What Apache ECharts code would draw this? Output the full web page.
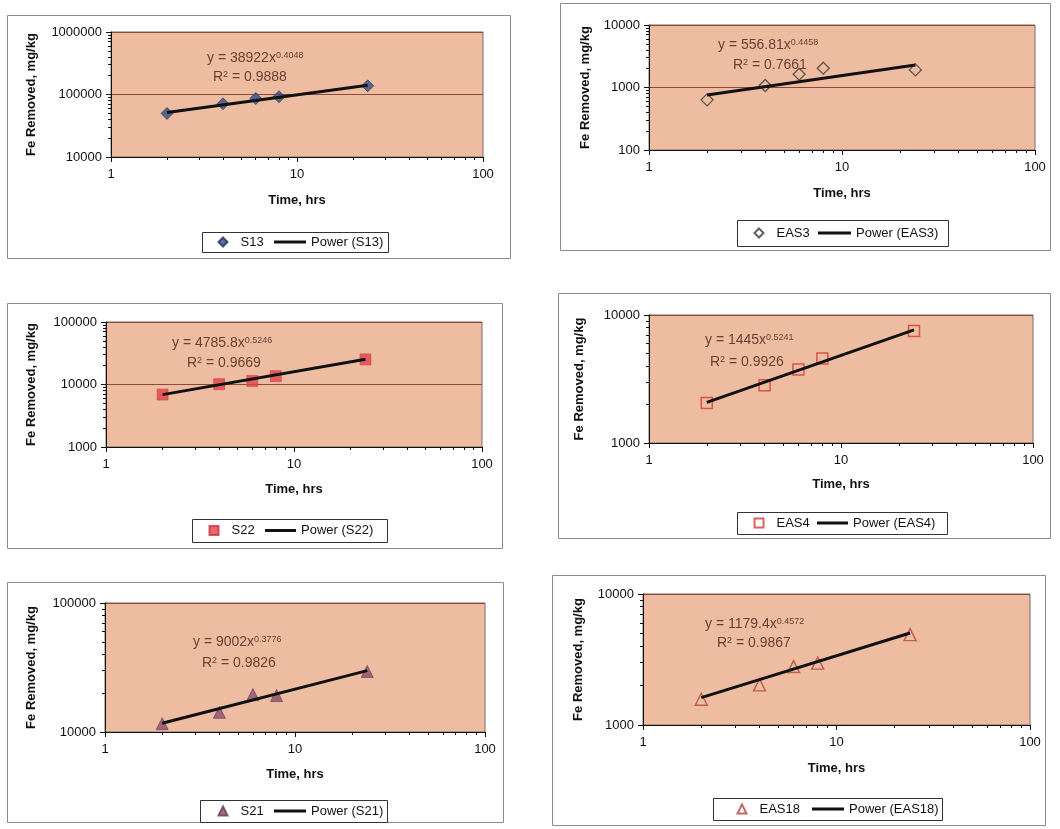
<!DOCTYPE html>
<html>
<head>
<meta charset="utf-8">
<title>Fe Removed vs Time</title>
<script src="https://cdn.jsdelivr.net/npm/echarts@6/dist/echarts.min.js"></script>
<style>
  html, body { margin: 0; padding: 0; background: #fff; }
  #chart { width: 1060px; height: 829px; }
</style>
</head>
<body>
<div id="chart"></div>
<script>
// Sampling times (hours), shared by every sample
const hours = [2, 4, 6, 8, 24];
const timeTicks = [1, 10, 100];

// Fe removed (mg/kg) for each sample
const s13   = [49700, 71000, 86300, 91900, 137800];
const eas3  = [634, 1077, 1632, 2037, 1914];
const s22   = [6900, 10100, 11400, 13600, 25200];
const eas4  = [2056, 2830, 3760, 4580, 7500];
const s21   = [11600, 14200, 19500, 19200, 29500];
const eas18 = [1573, 2024, 2793, 2966, 4900];

// Power trendline y = a * x^b and its R²
const s13Fit   = { a: 38922,  b: 0.4048, r2: '0.9888' };
const eas3Fit  = { a: 556.81, b: 0.4458, r2: '0.7661' };
const s22Fit   = { a: 4785.8, b: 0.5246, r2: '0.9669' };
const eas4Fit  = { a: 1445,   b: 0.5241, r2: '0.9926' };
const s21Fit   = { a: 9002,   b: 0.3776, r2: '0.9826' };
const eas18Fit = { a: 1179.4, b: 0.4572, r2: '0.9867' };

// Y-axis ranges (mg/kg)
const s13Range   = [10000, 1000000];
const eas3Range  = [100, 10000];
const s22Range   = [1000, 100000];
const eas4Range  = [1000, 10000];
const s21Range   = [10000, 100000];
const eas18Range = [1000, 10000];

const samples = [
  { name: 'S13',   values: s13,   fit: s13Fit,   range: s13Range },
  { name: 'EAS3',  values: eas3,  fit: eas3Fit,  range: eas3Range },
  { name: 'S22',   values: s22,   fit: s22Fit,   range: s22Range },
  { name: 'EAS4',  values: eas4,  fit: eas4Fit,  range: eas4Range },
  { name: 'S21',   values: s21,   fit: s21Fit,   range: s21Range },
  { name: 'EAS18', values: eas18, fit: eas18Fit, range: eas18Range }
];

// Marker looks per sample
const markers = [
  { symbol: 'diamond',  size: 12, item: { color: '#2f4f86', borderColor: '#1d3158', borderWidth: 0.8 } },
  { symbol: 'diamond',  size: 12, item: { color: 'rgba(0,0,0,0)', borderColor: '#3a3a3a', borderWidth: 1.3 } },
  { symbol: 'rect',     size: 11, item: { color: '#e2424c', borderColor: '#c8333b', borderWidth: 0.6 } },
  { symbol: 'rect',     size: 11, item: { color: 'rgba(0,0,0,0)', borderColor: '#d23a36', borderWidth: 1.5 } },
  { symbol: 'triangle', size: 12, item: { color: '#8a4f6e', borderColor: '#673852', borderWidth: 0.8 } },
  { symbol: 'triangle', size: 12, item: { color: 'rgba(0,0,0,0)', borderColor: '#b0453a', borderWidth: 1.4 } }
];

// Panel layout: frame, plot area, axis-name gaps, equation spots, legend box
const layout = [
  { frame: [7, 15, 503, 243],  grid: [111, 32, 372, 125], xGap: 37, yGap: 73,
    eq: [207, 58], r2: [213, 77], box: [202, 232, 186, 20], sym: 222, line: [274, 306] },
  { frame: [560, 3, 490, 247], grid: [649, 25, 386, 125], xGap: 37, yGap: 57,
    eq: [718, 45], r2: [733, 65], box: [737, 220, 211, 26], sym: 758, line: [818, 851] },
  { frame: [7, 303, 495, 245], grid: [106, 322, 376, 125], xGap: 36, yGap: 68,
    eq: [172, 343], r2: [187, 363], box: [192, 519, 195, 23], sym: 213, line: [265, 296] },
  { frame: [558, 293, 492, 245], grid: [649, 315, 384, 128], xGap: 35, yGap: 63,
    eq: [705, 340], r2: [710, 362], box: [737, 512, 210, 22], sym: 758, line: [817, 848] },
  { frame: [7, 582, 496, 240], grid: [105, 603, 380, 129], xGap: 36, yGap: 67,
    eq: [193, 642], r2: [202, 663], box: [200, 800, 187, 22], sym: 222, line: [274, 306] },
  { frame: [552, 575, 493, 250], grid: [643, 594, 387, 131], xGap: 37, yGap: 58,
    eq: [705, 624], r2: [717, 643], box: [713, 798, 229, 22], sym: 741, line: [812, 844] }
];

const FONT = '"Liberation Sans", Arial, Helvetica, sans-serif';
const PLOT_BG = '#EEBDA1';
const GRID_LINE = '#8a4a3a';
const EQ_COLOR = '#6a3f30';

// Minor tick positions 2..9 within each decade of a log range
function minorTicks(min, max) {
  const out = [];
  for (let d = Math.round(Math.log10(min)); d < Math.round(Math.log10(max)); d++) {
    for (let k = 2; k <= 9; k++) out.push(k * Math.pow(10, d));
  }
  return out;
}

const grids = [], xAxes = [], yAxes = [], series = [], legends = [], graphics = [];

samples.forEach((s, i) => {
  const L = layout[i];
  const m = markers[i];
  const powerName = 'Power (' + s.name + ')';

  grids.push({
    left: L.grid[0], top: L.grid[1], width: L.grid[2], height: L.grid[3],
    show: true, backgroundColor: PLOT_BG, borderColor: '#7a6a66', borderWidth: 1,
    containLabel: false, outerBoundsMode: 'none'
  });

  // major x axis
  xAxes.push({
    type: 'log', logBase: 10, gridIndex: i, min: timeTicks[0], max: timeTicks[timeTicks.length - 1],
    name: 'Time, hrs', nameLocation: 'middle', nameGap: L.xGap,
    nameTextStyle: { fontFamily: FONT, fontSize: 13, fontWeight: 'bold', color: '#111' },
    axisLine: { show: true, onZero: false, lineStyle: { color: '#111', width: 1 } },
    axisTick: { show: true, length: 5, lineStyle: { color: '#111' } },
    axisLabel: { show: true, margin: 11, fontFamily: FONT, fontSize: 13, color: '#111',
      formatter: v => String(Math.round(v)) },
    splitLine: { show: false }, minorTick: { show: false }
  });
  // minor x ticks
  xAxes.push({
    type: 'log', logBase: 10, gridIndex: i, min: timeTicks[0], max: timeTicks[timeTicks.length - 1],
    position: 'bottom',
    axisLine: { show: false },
    axisTick: { show: true, length: 3, customValues: minorTicks(timeTicks[0], timeTicks[timeTicks.length - 1]),
      lineStyle: { color: '#111' } },
    axisLabel: { show: false }, splitLine: { show: false }
  });

  // major y axis
  yAxes.push({
    type: 'log', logBase: 10, gridIndex: i, min: s.range[0], max: s.range[1],
    name: 'Fe Removed, mg/kg', nameLocation: 'middle', nameGap: L.yGap, nameRotate: 90,
    nameTextStyle: { fontFamily: FONT, fontSize: 13, fontWeight: 'bold', color: '#111' },
    axisLine: { show: true, onZero: false, lineStyle: { color: '#111', width: 1 } },
    axisTick: { show: true, length: 5, lineStyle: { color: '#111' } },
    axisLabel: { show: true, margin: 9, fontFamily: FONT, fontSize: 13, color: '#111',
      formatter: v => String(Math.round(v)) },
    splitLine: { show: true, lineStyle: { color: GRID_LINE, width: 1 } },
    minorTick: { show: false }
  });
  // minor y ticks
  yAxes.push({
    type: 'log', logBase: 10, gridIndex: i, min: s.range[0], max: s.range[1],
    position: 'left',
    axisLine: { show: false },
    axisTick: { show: true, length: 3, customValues: minorTicks(s.range[0], s.range[1]),
      lineStyle: { color: '#111' } },
    axisLabel: { show: false }, splitLine: { show: false }
  });

  // measured points
  series.push({
    type: 'scatter', name: s.name, xAxisIndex: 2 * i, yAxisIndex: 2 * i,
    data: hours.map((h, k) => [h, s.values[k]]),
    symbol: m.symbol, symbolSize: m.size, itemStyle: m.item, z: 2, silent: true
  });

  // power trendline across the sampled time span
  const x0 = hours[0], x1 = hours[hours.length - 1];
  series.push({
    type: 'line', name: powerName, xAxisIndex: 2 * i, yAxisIndex: 2 * i,
    data: [[x0, s.fit.a * Math.pow(x0, s.fit.b)], [x1, s.fit.a * Math.pow(x1, s.fit.b)]],
    symbol: 'none', showSymbol: false,
    lineStyle: { color: '#111', width: 3 }, itemStyle: { color: '#111' }, z: 3, silent: true
  });

  // legend: marker entry and trendline entry, both centred on the box
  const midY = L.box[1] + L.box[3] / 2;
  legends.push({
    data: [s.name], left: L.sym - 4.5, top: midY - 7, padding: 0,
    itemWidth: 9, itemHeight: 9, selectedMode: false,
    textStyle: { fontFamily: FONT, fontSize: 13, color: '#111', lineHeight: 14, padding: [0, 0, 0, 8] }
  });
  legends.push({
    data: [{ name: powerName, icon: 'rect', itemStyle: { color: '#111', borderWidth: 0 } }],
    left: L.line[0], top: midY - 7, padding: 0,
    itemWidth: L.line[1] - L.line[0], itemHeight: 3, selectedMode: false,
    textStyle: { fontFamily: FONT, fontSize: 13, color: '#111', lineHeight: 14 }
  });

  // panel frame
  graphics.push({
    type: 'rect', z: -10, silent: true,
    shape: { x: L.frame[0] + 0.5, y: L.frame[1] + 0.5, width: L.frame[2], height: L.frame[3] },
    style: { fill: '#fff', stroke: '#8c8c8c', lineWidth: 1 }
  });
  // legend box
  graphics.push({
    type: 'rect', z: 50, silent: true,
    shape: { x: L.box[0] + 0.5, y: L.box[1] + 0.5, width: L.box[2], height: L.box[3] },
    style: { fill: 'rgba(0,0,0,0)', stroke: '#333', lineWidth: 1 }
  });
  // trendline equation and R²
  graphics.push({
    type: 'text', z: 60, silent: true, x: L.eq[0], y: L.eq[1],
    style: {
      text: '{n|y = ' + s.fit.a + 'x}{s|' + s.fit.b + '}',
      verticalAlign: 'middle',
      rich: {
        n: { fontFamily: FONT, fontSize: 14, fill: EQ_COLOR },
        s: { fontFamily: FONT, fontSize: 9, fill: EQ_COLOR, verticalAlign: 'top' }
      }
    }
  });
  graphics.push({
    type: 'text', z: 60, silent: true, x: L.r2[0], y: L.r2[1],
    style: {
      text: '{n|R}{s|2}{n| = ' + s.fit.r2 + '}',
      verticalAlign: 'middle',
      rich: {
        n: { fontFamily: FONT, fontSize: 14, fill: EQ_COLOR },
        s: { fontFamily: FONT, fontSize: 9, fill: EQ_COLOR, verticalAlign: 'top' }
      }
    }
  });
});

const chart = echarts.init(document.getElementById('chart'), null, { renderer: 'canvas' });
chart.setOption({
  animation: false,
  backgroundColor: '#fff',
  textStyle: { fontFamily: FONT },
  grid: grids,
  xAxis: xAxes,
  yAxis: yAxes,
  legend: legends,
  graphic: { elements: graphics },
  series: series
});
</script>
</body>
</html>
